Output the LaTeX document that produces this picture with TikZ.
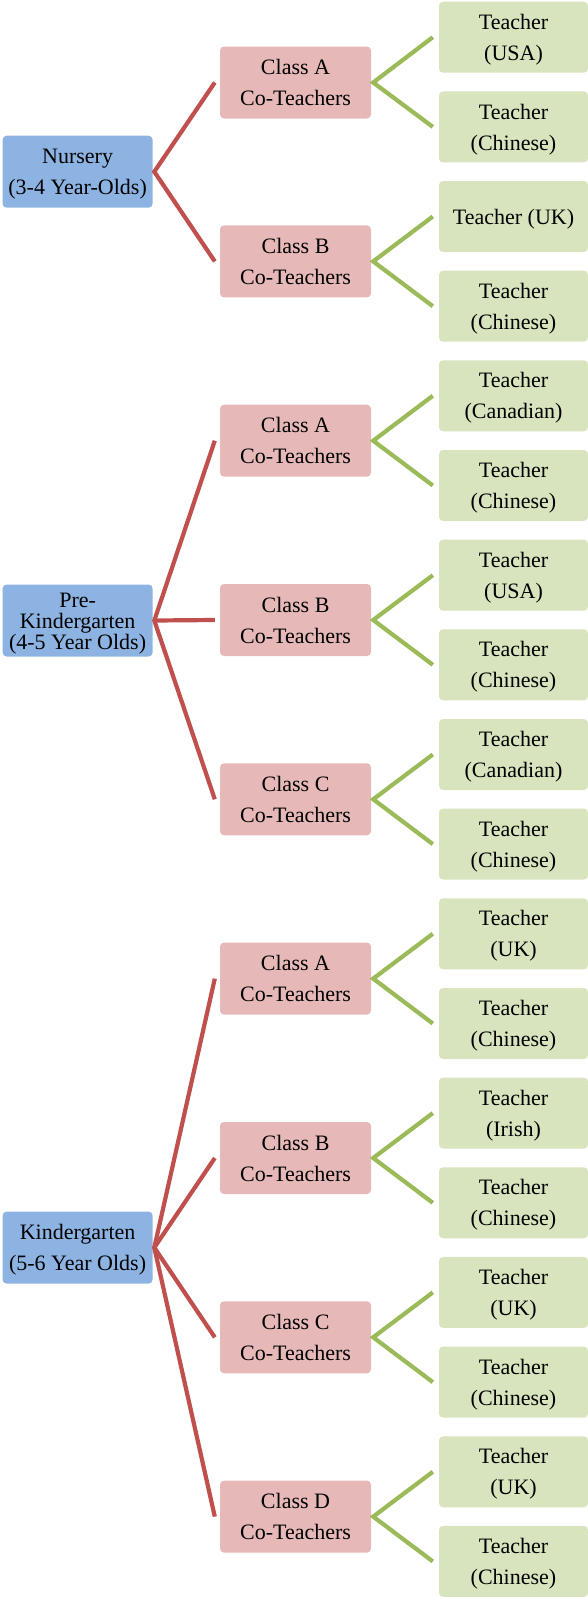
\documentclass[tikz,border=0pt]{standalone}
\usepackage{fontspec}
\setmainfont{Liberation Serif}
\usepackage{xcolor}
\definecolor{agebox}{HTML}{8DB3E2}
\definecolor{classbox}{HTML}{E6B9B8}
\definecolor{teachbox}{HTML}{D7E4BD}
\definecolor{redlink}{HTML}{C0504D}
\definecolor{greenlink}{HTML}{9BBB59}
\newcommand{\ts}{\rule{0pt}{20pt}}

\begin{document}
\begin{tikzpicture}[x=1pt,y=-1pt,font=\fontsize{22}{31}\selectfont,
  box/.style={rounded corners=4pt,inner sep=0pt,align=center,
    execute at end node={\rule[-4.6pt]{0pt}{0pt}}},
  age/.style={box,fill=agebox,minimum width=150pt,minimum height=72pt},
  cls/.style={box,fill=classbox,minimum width=151pt,minimum height=72pt},
  tch/.style={box,fill=teachbox,minimum width=149pt,minimum height=71pt},
  redline/.style={redlink,line width=4.2pt},
  greenline/.style={greenlink,line width=4.2pt}]
\useasboundingbox (0,0) rectangle (588,1598);
% age groups
\node[age] (nur) at (77.6,171.7) {\ts Nursery\\(3-4 Year-Olds)};
\node[age,font=\fontsize{22}{21}\selectfont] (pre) at (77.6,620.5) {\ts Pre-\\Kindergarten\\(4-5 Year Olds)};
\node[age] (kin) at (77.6,1247.6) {\ts Kindergarten\\(5-6 Year Olds)};
% classes
\node[cls] (na) at (295.5,82.5) {\ts Class A\\Co-Teachers};
\node[cls] (nb) at (295.5,261.4) {\ts Class B\\Co-Teachers};
\node[cls] (pa) at (295.5,440.7) {\ts Class A\\Co-Teachers};
\node[cls] (pb) at (295.5,620) {\ts Class B\\Co-Teachers};
\node[cls] (pc) at (295.5,799.3) {\ts Class C\\Co-Teachers};
\node[cls] (ka) at (295.5,978.6) {\ts Class A\\Co-Teachers};
\node[cls] (kb) at (295.5,1158) {\ts Class B\\Co-Teachers};
\node[cls] (kc) at (295.5,1337.3) {\ts Class C\\Co-Teachers};
\node[cls] (kd) at (295.5,1516.6) {\ts Class D\\Co-Teachers};
% teachers
\node[tch] (na1) at (513.5,37.2) {\ts Teacher\\(USA)};
\node[tch] (na2) at (513.5,126.9) {\ts Teacher\\(Chinese)};
\node[tch] (nb1) at (513.5,216.5) {\ts Teacher (UK)};
\node[tch] (nb2) at (513.5,306.2) {\ts Teacher\\(Chinese)};
\node[tch] (pa1) at (513.5,395.8) {\ts Teacher\\(Canadian)};
\node[tch] (pa2) at (513.5,485.5) {\ts Teacher\\(Chinese)};
\node[tch] (pb1) at (513.5,575.2) {\ts Teacher\\(USA)};
\node[tch] (pb2) at (513.5,664.8) {\ts Teacher\\(Chinese)};
\node[tch] (pc1) at (513.5,754.5) {\ts Teacher\\(Canadian)};
\node[tch] (pc2) at (513.5,844.1) {\ts Teacher\\(Chinese)};
\node[tch] (ka1) at (513.5,933.8) {\ts Teacher\\(UK)};
\node[tch] (ka2) at (513.5,1023.5) {\ts Teacher\\(Chinese)};
\node[tch] (kb1) at (513.5,1113.1) {\ts Teacher\\(Irish)};
\node[tch] (kb2) at (513.5,1202.8) {\ts Teacher\\(Chinese)};
\node[tch] (kc1) at (513.5,1292.4) {\ts Teacher\\(UK)};
\node[tch] (kc2) at (513.5,1382.1) {\ts Teacher\\(Chinese)};
\node[tch] (kd1) at (513.5,1471.8) {\ts Teacher\\(UK)};
\node[tch] (kd2) at (513.5,1561.4) {\ts Teacher\\(Chinese)};
% red links
\draw[redline] ([xshift=-5pt]na.west) -- ([xshift=1.5pt]nur.east) -- ([xshift=-5pt]nb.west);
\draw[redline] ([xshift=-5pt]pa.west) -- ([xshift=1.5pt]pre.east) -- ([xshift=-5pt]pc.west);
\draw[redline] ([xshift=1.5pt]pre.east) -- ([xshift=-5pt]pb.west);
\draw[redline] ([xshift=-5pt]ka.west) -- ([xshift=1.5pt]kin.east) -- ([xshift=-5pt]kd.west);
\draw[redline] ([xshift=-5pt]kb.west) -- ([xshift=1.5pt]kin.east) -- ([xshift=-5pt]kc.west);
% green links
\draw[greenline] ([xshift=-6pt]na1.west) -- ([xshift=2pt]na.east) -- ([xshift=-6pt]na2.west);
\draw[greenline] ([xshift=-6pt]nb1.west) -- ([xshift=2pt]nb.east) -- ([xshift=-6pt]nb2.west);
\draw[greenline] ([xshift=-6pt]pa1.west) -- ([xshift=2pt]pa.east) -- ([xshift=-6pt]pa2.west);
\draw[greenline] ([xshift=-6pt]pb1.west) -- ([xshift=2pt]pb.east) -- ([xshift=-6pt]pb2.west);
\draw[greenline] ([xshift=-6pt]pc1.west) -- ([xshift=2pt]pc.east) -- ([xshift=-6pt]pc2.west);
\draw[greenline] ([xshift=-6pt]ka1.west) -- ([xshift=2pt]ka.east) -- ([xshift=-6pt]ka2.west);
\draw[greenline] ([xshift=-6pt]kb1.west) -- ([xshift=2pt]kb.east) -- ([xshift=-6pt]kb2.west);
\draw[greenline] ([xshift=-6pt]kc1.west) -- ([xshift=2pt]kc.east) -- ([xshift=-6pt]kc2.west);
\draw[greenline] ([xshift=-6pt]kd1.west) -- ([xshift=2pt]kd.east) -- ([xshift=-6pt]kd2.west);
\end{tikzpicture}
\end{document}
